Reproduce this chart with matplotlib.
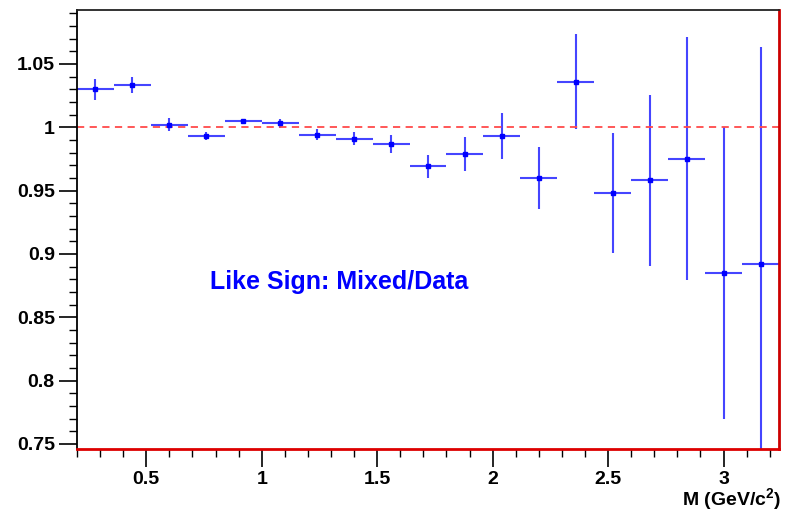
import numpy as np
import matplotlib.pyplot as plt
from matplotlib.ticker import MultipleLocator

# bin centres (GeV/c^2), bin width 0.16
mass = [0.28, 0.44, 0.60, 0.76, 0.92, 1.08, 1.24, 1.40, 1.56, 1.72,
        1.88, 2.04, 2.20, 2.36, 2.52, 2.68, 2.84, 3.00, 3.16]
ratio = [1.030, 1.033, 1.002, 0.993, 1.005, 1.003, 0.994, 0.991, 0.987, 0.969,
         0.979, 0.993, 0.960, 1.036, 0.948, 0.958, 0.975, 0.885, 0.892]
ratio_err = [0.0083, 0.0063, 0.005, 0.0033, 0.001, 0.0035, 0.0042, 0.0054, 0.0072, 0.0092,
             0.0132, 0.0183, 0.0246, 0.0376, 0.0473, 0.0675, 0.096, 0.115, 0.171]
bin_half = 0.08

plt.rcParams['font.family'] = ['Liberation Sans', 'DejaVu Sans']
plt.rcParams['font.weight'] = 'bold'
plt.rcParams['mathtext.fontset'] = 'custom'
plt.rcParams['mathtext.bf'] = 'Liberation Sans:bold'
plt.rcParams['mathtext.rm'] = 'Liberation Sans:bold'

fig = plt.figure(figsize=(7.87, 5.12), dpi=100)
ax = fig.add_axes([77 / 787, 1 - 449 / 512, (779 - 77) / 787, (449 - 10) / 512])

ax.errorbar(mass, ratio, yerr=ratio_err, xerr=bin_half, fmt='s', color='#0000ff',
            ecolor='#4545ff', elinewidth=1.5, markersize=3.5, capsize=0)
ax.axhline(1.0, color='#ff4a4a', linestyle=(0, (4, 3)), linewidth=1.3)

ax.set_xlim(0.2, 3.24)
ax.set_ylim(0.746, 1.0925)

ax.xaxis.set_major_locator(MultipleLocator(0.5))
ax.xaxis.set_minor_locator(MultipleLocator(0.1))
ax.yaxis.set_major_locator(MultipleLocator(0.05))
ax.yaxis.set_minor_locator(MultipleLocator(0.01))
ax.set_xticks([0.5, 1, 1.5, 2, 2.5, 3])
ax.set_xticklabels(['0.5', '1', '1.5', '2', '2.5', '3'])
ax.set_yticks([0.75, 0.8, 0.85, 0.9, 0.95, 1.0, 1.05])
ax.set_yticklabels(['0.75', '0.8', '0.85', '0.9', '0.95', '1', '1.05'])

ax.tick_params(which='major', direction='out', length=13, width=1.2,
               labelsize=14, pad=3)
ax.tick_params(which='minor', direction='out', length=6, width=1.0)
ax.tick_params(axis='x', which='major', pad=3)
for lab in ax.get_xticklabels() + ax.get_yticklabels():
    lab.set_fontweight('bold')

ax.spines['left'].set_color('black')
ax.spines['left'].set_linewidth(1.3)
ax.spines['top'].set_color('#222222')
ax.spines['top'].set_linewidth(1.3)
ax.spines['right'].set_color('#cc0000')
ax.spines['right'].set_linewidth(2.0)
ax.spines['bottom'].set_color('#dd0000')
ax.spines['bottom'].set_linewidth(2.0)

ax.text(0.774, 0.878, 'Like Sign: Mixed/Data', color='#0000ff', fontsize=18,
        fontweight='bold', ha='left', va='center')

fig.text(781 / 787, 1 - 500 / 512, r'M (GeV/c$^{\mathbf{2}}$)', fontsize=14,
         fontweight='bold', ha='right', va='center')

fig.savefig('out.png', dpi=100)
